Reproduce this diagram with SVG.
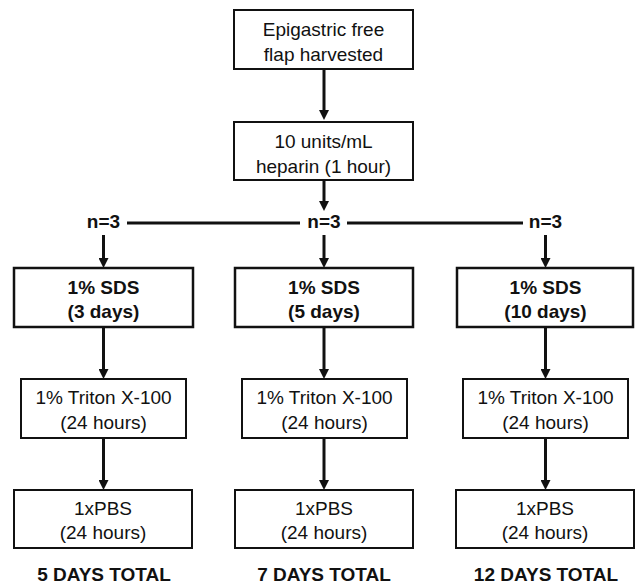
<svg xmlns="http://www.w3.org/2000/svg" width="635" height="586" viewBox="0 0 635 586">
<style>
.box{fill:#fff;stroke:#111;stroke-width:2}
.bbox{fill:#fff;stroke:#111;stroke-width:2.5}
.t{font-family:"Liberation Sans",Arial,sans-serif;font-size:19px;fill:#111;text-anchor:middle}
.b{font-weight:bold}
.c{stroke:#111;stroke-width:3;fill:none}
</style>
<defs>
<marker id="ah" viewBox="0 0 10 10" refX="2" refY="5" markerWidth="10" markerHeight="10" markerUnits="userSpaceOnUse" orient="auto">
<path d="M0,0 L10,5 L0,10 z" fill="#111"/>
</marker>
</defs>
<rect width="635" height="586" fill="#fff"/>
<g id="connectors">
<line class="c" x1="324" y1="69" x2="324" y2="112" marker-end="url(#ah)"/>
<line class="c" x1="324" y1="180" x2="324" y2="203" marker-end="url(#ah)"/>
<line class="c" x1="127" y1="223" x2="300" y2="223"/>
<line class="c" x1="347" y1="223" x2="523" y2="223"/>
<line class="c" x1="103.5" y1="235" x2="103.5" y2="260" marker-end="url(#ah)"/>
<line class="c" x1="324" y1="235" x2="324" y2="260" marker-end="url(#ah)"/>
<line class="c" x1="545.5" y1="235" x2="545.5" y2="260" marker-end="url(#ah)"/>
<line class="c" x1="103.5" y1="327" x2="103.5" y2="371" marker-end="url(#ah)"/>
<line class="c" x1="324" y1="327" x2="324" y2="371" marker-end="url(#ah)"/>
<line class="c" x1="545.5" y1="327" x2="545.5" y2="371" marker-end="url(#ah)"/>
<line class="c" x1="103.5" y1="438" x2="103.5" y2="482" marker-end="url(#ah)"/>
<line class="c" x1="324" y1="438" x2="324" y2="482" marker-end="url(#ah)"/>
<line class="c" x1="545.5" y1="438" x2="545.5" y2="482" marker-end="url(#ah)"/>
</g>
<g id="flap">
<rect class="box" x="234" y="10" width="179" height="59"/>
<text class="t" x="323.5" y="36">Epigastric free</text>
<text class="t" x="323.5" y="61">flap harvested</text>
</g>
<g id="heparin">
<rect class="box" x="234" y="122" width="179" height="58"/>
<text class="t" x="323.5" y="148">10 units/mL</text>
<text class="t" x="323.5" y="173">heparin (1 hour)</text>
</g>
<g id="n1"><text class="t b" x="103.5" y="228">n=3</text></g>
<g id="n2"><text class="t b" x="324" y="228">n=3</text></g>
<g id="n3"><text class="t b" x="545.5" y="228">n=3</text></g>
<g id="sds1">
<rect class="bbox" x="14" y="268" width="179" height="59"/>
<text class="t b" x="103.5" y="294">1% SDS</text>
<text class="t b" x="103.5" y="318">(3 days)</text>
</g>
<g id="sds2">
<rect class="bbox" x="235" y="268" width="178" height="59"/>
<text class="t b" x="324" y="294">1% SDS</text>
<text class="t b" x="324" y="318">(5 days)</text>
</g>
<g id="sds3">
<rect class="bbox" x="457" y="268" width="176" height="59"/>
<text class="t b" x="545.5" y="294">1% SDS</text>
<text class="t b" x="545.5" y="318">(10 days)</text>
</g>
<g id="triton1">
<rect class="box" x="21" y="379" width="165" height="59"/>
<text class="t" x="103.5" y="404">1% Triton X-100</text>
<text class="t" x="103.5" y="429">(24 hours)</text>
</g>
<g id="triton2">
<rect class="box" x="242" y="379" width="165" height="59"/>
<text class="t" x="324.5" y="404">1% Triton X-100</text>
<text class="t" x="324.5" y="429">(24 hours)</text>
</g>
<g id="triton3">
<rect class="box" x="463" y="379" width="165" height="59"/>
<text class="t" x="545.5" y="404">1% Triton X-100</text>
<text class="t" x="545.5" y="429">(24 hours)</text>
</g>
<g id="pbs1">
<rect class="box" x="14" y="490" width="178" height="58"/>
<text class="t" x="103" y="515">1xPBS</text>
<text class="t" x="103" y="539">(24 hours)</text>
</g>
<g id="pbs2">
<rect class="box" x="235" y="490" width="178" height="58"/>
<text class="t" x="324" y="515">1xPBS</text>
<text class="t" x="324" y="539">(24 hours)</text>
</g>
<g id="pbs3">
<rect class="box" x="456" y="490" width="178" height="58"/>
<text class="t" x="545" y="515">1xPBS</text>
<text class="t" x="545" y="539">(24 hours)</text>
</g>
<g id="total1"><text class="t b" x="104" y="581">5 DAYS TOTAL</text></g>
<g id="total2"><text class="t b" x="324" y="581">7 DAYS TOTAL</text></g>
<g id="total3"><text class="t b" x="546" y="581">12 DAYS TOTAL</text></g>
</svg>
